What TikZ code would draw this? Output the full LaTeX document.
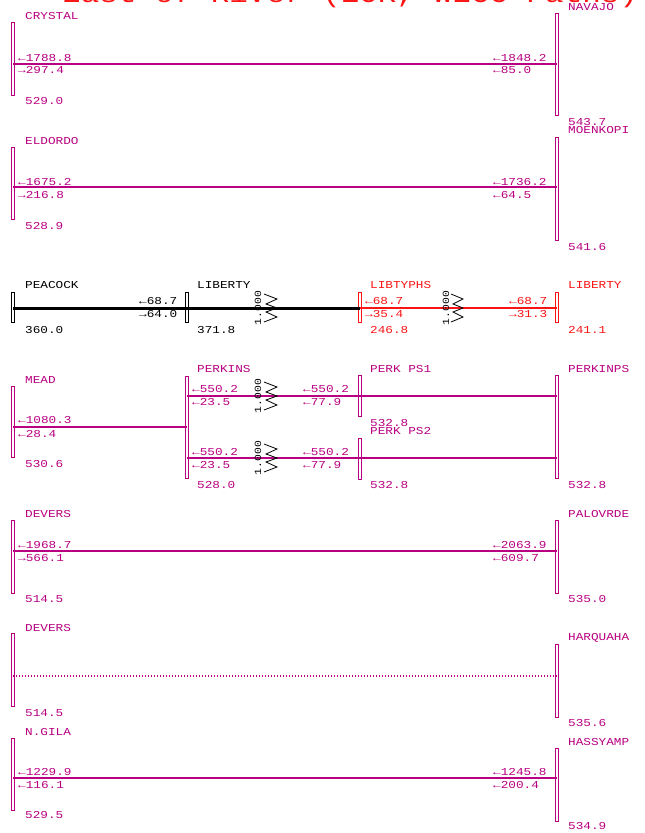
\documentclass[tikz,border=0pt]{standalone}
\usepackage{fontspec}
\newfontfamily\plotfont[FakeStretch=1.2]{Liberation Mono}
\usetikzlibrary{shapes,arrows}
\definecolor{plotmag}{RGB}{184,0,128}
\definecolor{plotred}{RGB}{250,20,20}
\tikzstyle{busbar} = [draw, rectangle, line width=0.8pt, minimum width=2.4pt, inner sep=0pt]
\tikzstyle{acline} = [draw, line width=1.6pt]
\tikzstyle{tieline} = [draw, line width=3pt]
\tikzstyle{openline} = [draw, line width=1.3pt, dash pattern=on 1.3pt off 1.7pt]
\tikzstyle{tag} = [anchor=west, inner sep=0pt, font=\plotfont\fontsize{10.6}{11}\selectfont]
\tikzstyle{ratio} = [rotate=90, inner sep=0pt, font=\plotfont\fontsize{9.5}{10}\selectfont]
\tikzstyle{coil} = [draw, line width=0.8pt]

\begin{document}
\begin{tikzpicture}[x=1pt, y=-1pt]
\useasboundingbox (0,0) rectangle (645,833);
\node[anchor=base west, inner sep=0pt, plotred, font=\plotfont\fontsize{25.8}{26}\selectfont] (title) at (62,2) {East of River (EOR, WECC Paths)};

%% Crystal - Navajo
\begin{scope}[color=plotmag]
\node[busbar, minimum height=73pt] (crystal) at (13,58.5) {};
\node[busbar, minimum height=102pt] (navajo) at (557,64) {};
\coordinate (l1) at (0,64);
\draw[acline] (crystal |- l1) -- (navajo |- l1);
\node[tag] (crystal-nm) at (25,16) {CRYSTAL};
\node[tag] (navajo-nm) at (568,7) {NAVAJO};
\node[tag] (crystal-kv) at (25,101) {529.0};
\node[tag] (navajo-kv) at (568,122) {543.7};
\node[tag] (f1a) at (18,58) {←1788.8};
\node[tag] (f1b) at (18,70) {→297.4};
\node[tag] (f1c) at (493,58) {←1848.2};
\node[tag] (f1d) at (493,70) {←85.0};
\end{scope}

%% Eldordo - Moenkopi
\begin{scope}[color=plotmag]
\node[busbar, minimum height=72pt] (eldordo) at (13,183) {};
\node[busbar, minimum height=103pt] (moenkopi) at (557,188.5) {};
\coordinate (l2) at (0,187);
\draw[acline] (eldordo |- l2) -- (moenkopi |- l2);
\node[tag] (eldordo-nm) at (25,141) {ELDORDO};
\node[tag] (moenkopi-nm) at (568,130) {MOENKOPI};
\node[tag] (eldordo-kv) at (25,226) {528.9};
\node[tag] (moenkopi-kv) at (568,247) {541.6};
\node[tag] (f2a) at (18,182) {←1675.2};
\node[tag] (f2b) at (18,195) {→216.8};
\node[tag] (f2c) at (493,182) {←1736.2};
\node[tag] (f2d) at (493,195) {←64.5};
\end{scope}

%% Peacock - Liberty - Libtyphs - Liberty
\node[busbar, minimum height=30pt] (peacock) at (13,307) {};
\node[busbar, minimum height=30pt] (liberty) at (187,307) {};
\node[busbar, plotred, minimum height=30pt] (libtyphs) at (360,307) {};
\node[busbar, plotred, minimum height=30pt] (libertyr) at (557,307) {};
\coordinate (l3) at (0,308);
\draw[tieline] (peacock |- l3) -- (libtyphs |- l3);
\draw[acline, plotred] (libtyphs |- l3) -- (libertyr |- l3);
\node[tag] (peacock-nm) at (25,285) {PEACOCK};
\node[tag] (liberty-nm) at (197,285) {LIBERTY};
\node[tag, plotred] (libtyphs-nm) at (370,285) {LIBTYPHS};
\node[tag, plotred] (libertyr-nm) at (568,285) {LIBERTY};
\node[tag] (peacock-kv) at (25,330) {360.0};
\node[tag] (liberty-kv) at (197,330) {371.8};
\node[tag, plotred] (libtyphs-kv) at (370,330) {246.8};
\node[tag, plotred] (libertyr-kv) at (568,330) {241.1};
\node[tag] (f3a) at (139,301) {←68.7};
\node[tag] (f3b) at (139,314) {→64.0};
\node[tag, plotred] (f3c) at (365,301) {←68.7};
\node[tag, plotred] (f3d) at (365,314) {→35.4};
\node[tag, plotred] (f3e) at (509,301) {←68.7};
\node[tag, plotred] (f3f) at (509,314) {→31.3};

\begin{scope}[shift={(258,308)}]
\node[ratio] (t1) at (0,0) {1.000};
\draw[coil] (6,-14) -- (19,-9) -- (8,-4) -- (19,0) -- (8,4) -- (19,9) -- (6,14);
\end{scope}

\begin{scope}[shift={(446,308)}]
\node[ratio] (t2) at (0,0) {1.000};
\draw[coil] (5,-14) -- (17,-9) -- (7,-4) -- (17,0) -- (7,4) -- (17,9) -- (5,14);
\end{scope}

%% Mead - Perkins - Perk PS1/PS2 - Perkinps
\begin{scope}[color=plotmag]
\node[busbar, minimum height=71pt] (mead) at (13,421.5) {};
\node[busbar, minimum height=102pt] (perkins) at (187,427) {};
\node[busbar, minimum height=41pt] (perkps1) at (360,395.5) {};
\node[busbar, minimum height=41pt] (perkps2) at (360,458.5) {};
\node[busbar, minimum height=103pt] (perkinps) at (557,426.5) {};
\coordinate (l4) at (0,427);
\coordinate (l5) at (0,396);
\coordinate (l6) at (0,458);
\draw[acline] (mead |- l4) -- (perkins |- l4);
\draw[acline] (perkins |- l5) -- (perkinps |- l5);
\draw[acline] (perkins |- l6) -- (perkinps |- l6);
\node[tag] (mead-nm) at (25,380) {MEAD};
\node[tag] (perkins-nm) at (197,369) {PERKINS};
\node[tag] (perkps1-nm) at (370,369) {PERK PS1};
\node[tag] (perkps2-nm) at (370,431) {PERK PS2};
\node[tag] (perkinps-nm) at (568,369) {PERKINPS};
\node[tag] (mead-kv) at (25,464) {530.6};
\node[tag] (perkins-kv) at (197,485) {528.0};
\node[tag] (perkps1-kv) at (370,423) {532.8};
\node[tag] (perkps2-kv) at (370,485) {532.8};
\node[tag] (perkinps-kv) at (568,485) {532.8};
\node[tag] (f4a) at (18,420) {←1080.3};
\node[tag] (f4b) at (18,434) {←28.4};
\node[tag] (f5a) at (192,389) {←550.2};
\node[tag] (f5b) at (192,402) {←23.5};
\node[tag] (f5c) at (303,389) {←550.2};
\node[tag] (f5d) at (303,402) {←77.9};
\node[tag] (f6a) at (192,452) {←550.2};
\node[tag] (f6b) at (192,465) {←23.5};
\node[tag] (f6c) at (303,452) {←550.2};
\node[tag] (f6d) at (303,465) {←77.9};
\end{scope}

\begin{scope}[shift={(258,396)}]
\node[ratio] (t3) at (0,0) {1.000};
\draw[coil] (6,-14) -- (19,-9) -- (8,-4) -- (19,0) -- (8,4) -- (19,9) -- (6,14);
\end{scope}

\begin{scope}[shift={(258,458)}]
\node[ratio] (t4) at (0,0) {1.000};
\draw[coil] (6,-14) -- (19,-9) -- (8,-4) -- (19,0) -- (8,4) -- (19,9) -- (6,14);
\end{scope}

%% Devers - Palovrde
\begin{scope}[color=plotmag]
\node[busbar, minimum height=73pt] (devers) at (13,556.5) {};
\node[busbar, minimum height=73pt] (palovrde) at (557,556.5) {};
\coordinate (l7) at (0,551);
\draw[acline] (devers |- l7) -- (palovrde |- l7);
\node[tag] (devers-nm) at (25,514) {DEVERS};
\node[tag] (palovrde-nm) at (568,514) {PALOVRDE};
\node[tag] (devers-kv) at (25,599) {514.5};
\node[tag] (palovrde-kv) at (568,599) {535.0};
\node[tag] (f7a) at (18,545) {←1968.7};
\node[tag] (f7b) at (18,558) {→566.1};
\node[tag] (f7c) at (493,545) {←2063.9};
\node[tag] (f7d) at (493,558) {←609.7};
\end{scope}

%% Devers - Harquaha (open)
\begin{scope}[color=plotmag]
\node[busbar, minimum height=73pt] (deversb) at (13,669.5) {};
\node[busbar, minimum height=73pt] (harquaha) at (557,680.5) {};
\coordinate (l8) at (0,676);
\draw[openline] (deversb |- l8) -- (harquaha |- l8);
\node[tag] (deversb-nm) at (25,628) {DEVERS};
\node[tag] (harquaha-nm) at (568,638) {HARQUAHA};
\node[tag] (deversb-kv) at (25,713) {514.5};
\node[tag] (harquaha-kv) at (568,723) {535.6};
\end{scope}

%% N.Gila - Hassyamp
\begin{scope}[color=plotmag]
\node[busbar, minimum height=72pt] (ngila) at (13,774) {};
\node[busbar, minimum height=73pt] (hassyamp) at (557,784.5) {};
\coordinate (l9) at (0,778);
\draw[acline] (ngila |- l9) -- (hassyamp |- l9);
\node[tag] (ngila-nm) at (25,732) {N.GILA};
\node[tag] (hassyamp-nm) at (568,742) {HASSYAMP};
\node[tag] (ngila-kv) at (25,815) {529.5};
\node[tag] (hassyamp-kv) at (568,826) {534.9};
\node[tag] (f9a) at (18,772) {←1229.9};
\node[tag] (f9b) at (18,785) {←116.1};
\node[tag] (f9c) at (493,772) {←1245.8};
\node[tag] (f9d) at (493,785) {←200.4};
\end{scope}
\end{tikzpicture}
\end{document}
